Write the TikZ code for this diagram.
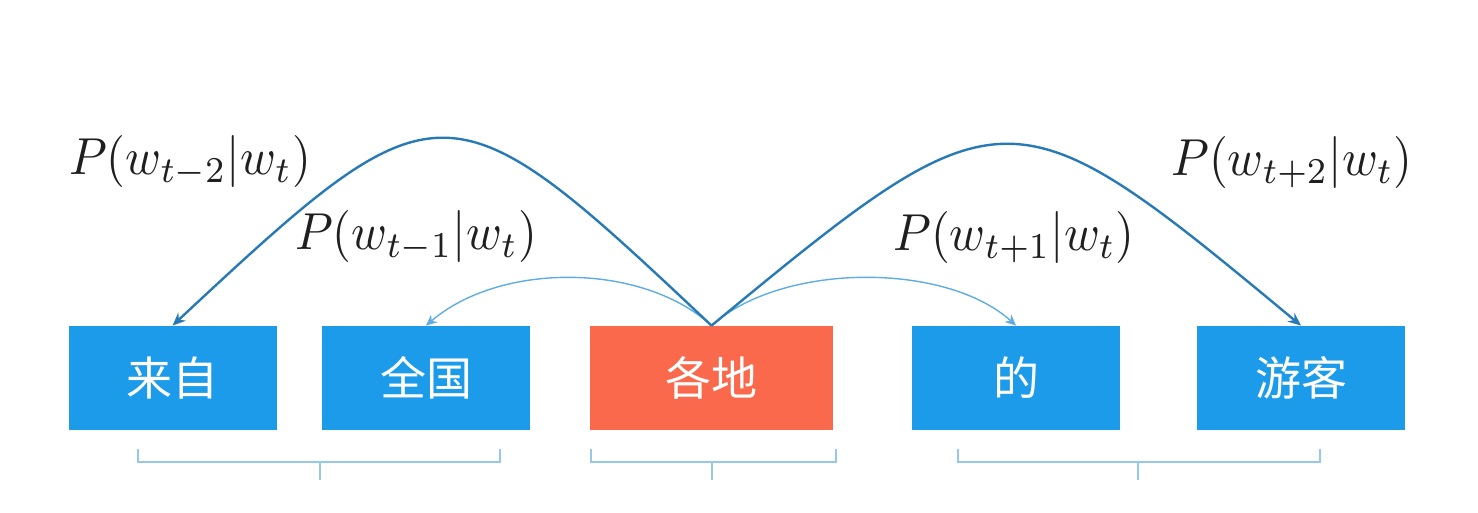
\documentclass[tikz,border=0pt]{standalone}
\usepackage{fontspec}
\newfontfamily\cjk{Noto Sans CJK SC}
\usetikzlibrary{arrows.meta}
\definecolor{boxblue}{RGB}{28,155,234}
\definecolor{boxred}{RGB}{250,105,75}
\definecolor{arcdark}{RGB}{40,122,182}
\definecolor{arclight}{RGB}{95,172,226}
\definecolor{brk}{RGB}{150,200,235}
\tikzset{
  wordbox/.style={fill=boxblue, draw=none, minimum height=52pt, minimum width=104pt, inner sep=0pt, text=white, font=\cjk\fontsize{23}{27}\selectfont},
  centerbox/.style={wordbox, fill=boxred, minimum width=121.5pt},
  lbl/.style={xscale=2.42, yscale=2.6, inner sep=0pt, text=black!88},
  bigarc/.style={draw=arcdark, line width=1.2pt, -{Stealth[length=6.5pt, width=5.5pt]}},
  smallarc/.style={draw=arclight, line width=0.7pt, -{Stealth[length=5.5pt, width=5pt]}},
  bracket/.style={draw=brk, line width=0.75pt}
}
\begin{document}
\begin{tikzpicture}[x=0.5pt, y=-0.5pt]
\useasboundingbox (0,0) rectangle (1478,513);
\node[wordbox] (laizi) at (172.5,378) {来自};
\node[wordbox] (quanguo) at (426,378) {全国};
\node[centerbox] (gedi) at (711.5,378) {各地};
\node[wordbox] (de) at (1016,378) {的};
\node[wordbox] (youke) at (1301,378) {游客};

\draw[smallarc] (gedi.north) .. controls (642,262) and (500,262) .. (quanguo.north);
\draw[smallarc] (gedi.north) .. controls (782,262) and (946,262) .. (de.north);
\draw[bigarc] (gedi.north) .. controls (447,76) and (440,76) .. (laizi.north);
\draw[bigarc] (gedi.north) .. controls (1004,84) and (1010,84) .. (youke.north);

\node[lbl] (lm2) at (190,162) {$P(w_{t-2}|w_t)$};
\node[lbl] (lm1) at (416,237) {$P(w_{t-1}|w_t)$};
\node[lbl] (lp1) at (1014,238) {$P(w_{t+1}|w_t)$};
\node[lbl] (lp2) at (1292,163) {$P(w_{t+2}|w_t)$};

\coordinate (b1a) at (138,449); \coordinate (b1b) at (500,449); \coordinate (b1c) at (320,480);
\coordinate (b2a) at (591,449); \coordinate (b2b) at (836,449); \coordinate (b2c) at (712,480);
\coordinate (b3a) at (958,449); \coordinate (b3b) at (1320,449); \coordinate (b3c) at (1138,480);
\draw[bracket] (b1a) -- (b1a |- 0,462) -- (b1b |- 0,462) -- (b1b);
\draw[bracket] (b1c |- 0,462) -- (b1c);
\draw[bracket] (b2a) -- (b2a |- 0,462) -- (b2b |- 0,462) -- (b2b);
\draw[bracket] (b2c |- 0,462) -- (b2c);
\draw[bracket] (b3a) -- (b3a |- 0,462) -- (b3b |- 0,462) -- (b3b);
\draw[bracket] (b3c |- 0,462) -- (b3c);
\end{tikzpicture}
\end{document}
